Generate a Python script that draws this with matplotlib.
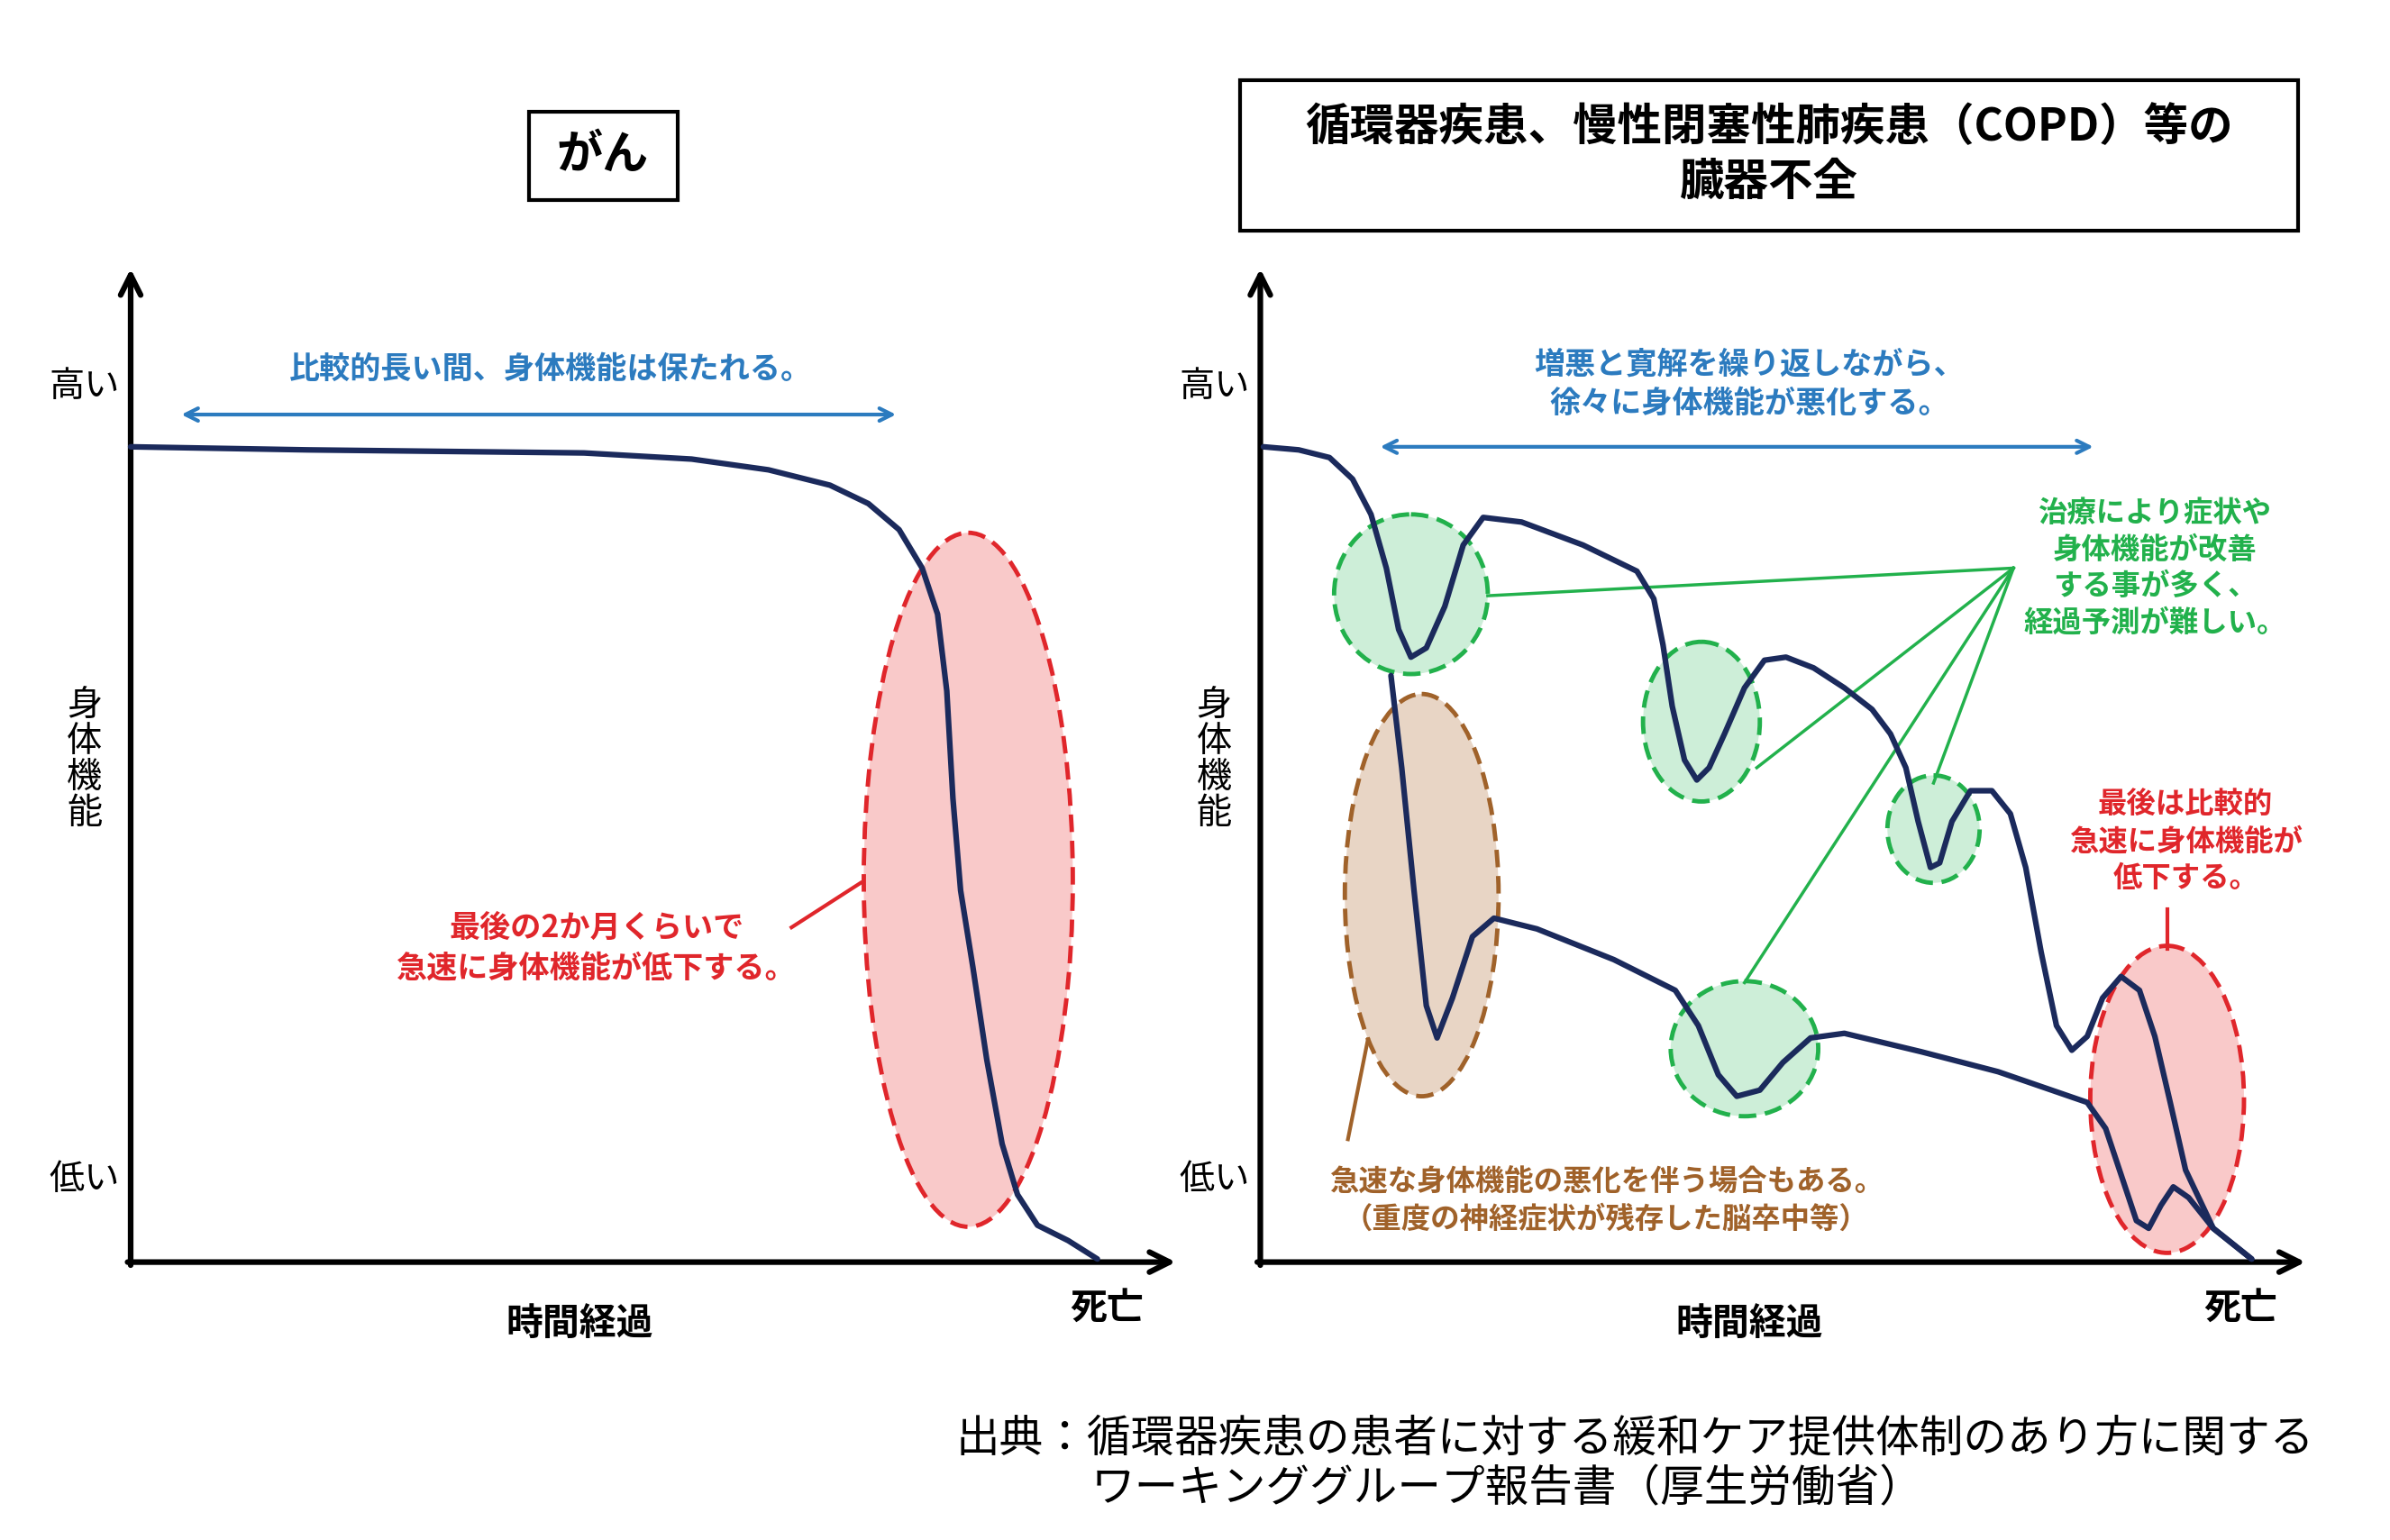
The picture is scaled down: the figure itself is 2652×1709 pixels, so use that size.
import matplotlib
matplotlib.use("Agg")
import matplotlib.pyplot as plt
from matplotlib.patches import Ellipse, Rectangle

plt.rcParams["font.family"] = "Noto Sans CJK JP"

# reference is laid out in a 1555 x 1003 coordinate space
W, H = 1555, 1003
def fs(px):
    return px * 1.228

NAVY = "#1b2a5c"
BLUE = "#2c7bbf"
RED = "#e0262b"
GREEN = "#22b14c"
BROWN = "#a0622a"

# left panel (がん) curve
left_x = [85, 200, 380, 450, 500, 540, 565, 585, 600, 610, 616, 620, 625, 633, 642, 652, 662, 675, 695, 714]
left_y = [291, 293, 295, 299, 306, 316, 328, 345, 370, 400, 450, 520, 580, 630, 690, 745, 778, 798, 808, 820]

# right panel upper curve
up_x = [822, 845, 865, 880, 892, 902, 910, 918, 928, 940, 952, 965, 990, 1030, 1065, 1076, 1082, 1088, 1096, 1104,
        1112, 1122, 1135, 1148, 1162, 1180, 1200, 1218, 1230, 1240, 1248, 1256, 1262, 1270, 1282, 1296, 1308, 1318,
        1328, 1338, 1348, 1358, 1368, 1380, 1392, 1402, 1412, 1422, 1440, 1465]
up_y = [291, 293, 298, 312, 335, 370, 410, 428, 422, 395, 355, 337, 340, 355, 372, 390, 420, 460, 495, 508,
        500, 478, 448, 430, 428, 435, 448, 462, 478, 500, 535, 565, 562, 535, 515, 515, 530, 565,
        620, 668, 684, 675, 650, 636, 645, 675, 718, 762, 800, 820]

# right panel lower curve
low_x = [905, 912, 920, 928, 935, 945, 958, 972, 1000, 1050, 1090, 1105, 1118, 1130, 1145, 1160, 1178, 1200,
         1250, 1300, 1358, 1370, 1380, 1390, 1398, 1406, 1414, 1424, 1440, 1465]
low_y = [440, 500, 580, 655, 676, 650, 610, 598, 605, 625, 645, 668, 700, 714, 710, 692, 676, 673,
         685, 698, 718, 735, 765, 795, 800, 785, 773, 780, 800, 820]

fig = plt.figure(figsize=(26.52, 17.09), dpi=100)
ax = fig.add_axes([0, 0, 1, 1])
ax.set_xlim(0, W)
ax.set_ylim(H, 0)
ax.axis("off")

def arrow(x0, y0, x1, y1, color, style="->", lw=4.5, ms=40):
    ax.annotate("", xy=(x1, y1), xytext=(x0, y0),
                arrowprops=dict(arrowstyle=style, color=color, lw=lw, mutation_scale=ms,
                                shrinkA=0, shrinkB=0))

def ell(cx, cy, w, h, face, edge):
    ax.add_patch(Ellipse((cx, cy), w, h, facecolor=face, edgecolor=edge, lw=3.5, ls=(0, (4, 2)), zorder=1))

# ---------- left panel ----------
arrow(85, 824, 85, 175, "black")
arrow(83, 822, 765, 822, "black")
ax.add_patch(Rectangle((344, 73), 97, 57, fill=False, lw=3, edgecolor="black"))
ax.text(392, 101, "がん", ha="center", va="center", fontsize=fs(30), fontweight="bold")
ax.text(55, 252, "高い", ha="center", va="center", fontsize=fs(23))
ax.text(55, 768, "低い", ha="center", va="center", fontsize=fs(23))
ax.text(55, 495, "身\n体\n機\n能", ha="center", va="center", fontsize=fs(23), linespacing=1.0)
ax.text(377, 862, "時間経過", ha="center", va="center", fontsize=fs(24), fontweight="bold")
ax.text(720, 852, "死亡", ha="center", va="center", fontsize=fs(24), fontweight="bold")
arrow(118, 270, 583, 270, BLUE, style="<->", lw=3, ms=25)
ax.text(358, 240, "比較的長い間、身体機能は保たれる。", ha="center", va="center",
        fontsize=fs(20), color=BLUE, fontweight="bold")
ell(630, 573, 136, 452, "#f9c9c9", RED)
ax.plot(left_x, left_y, color=NAVY, lw=4.5, zorder=3, solid_capstyle="round", solid_joinstyle="round")
ax.plot([515, 560], [604, 575], color=RED, lw=3)
ax.text(388, 617, "最後の2か月くらいで\n急速に身体機能が低下する。", ha="center", va="center",
        fontsize=fs(20), color=RED, fontweight="bold", linespacing=1.35)

# ---------- right panel ----------
arrow(820, 824, 820, 175, "black")
arrow(818, 822, 1500, 822, "black")
ax.add_patch(Rectangle((807, 52), 688, 98, fill=False, lw=3, edgecolor="black"))
ax.text(1151, 101, "循環器疾患、慢性閉塞性肺疾患（COPD）等の\n臓器不全", ha="center", va="center",
        fontsize=fs(29), fontweight="bold", linespacing=1.25)
ax.text(790, 252, "高い", ha="center", va="center", fontsize=fs(23))
ax.text(790, 768, "低い", ha="center", va="center", fontsize=fs(23))
ax.text(790, 495, "身\n体\n機\n能", ha="center", va="center", fontsize=fs(23), linespacing=1.0)
ax.text(1138, 862, "時間経過", ha="center", va="center", fontsize=fs(24), fontweight="bold")
ax.text(1458, 852, "死亡", ha="center", va="center", fontsize=fs(24), fontweight="bold")
arrow(898, 291, 1362, 291, BLUE, style="<->", lw=3, ms=25)
ax.text(1138, 250, "増悪と寛解を繰り返しながら、\n徐々に身体機能が悪化する。", ha="center", va="center",
        fontsize=fs(20), color=BLUE, fontweight="bold", linespacing=1.3)

ell(918, 387, 100, 104, "#cdeed8", GREEN)
ell(1107, 470, 76, 104, "#cdeed8", GREEN)
ell(1258, 540, 60, 70, "#cdeed8", GREEN)
ell(1135, 683, 96, 88, "#cdeed8", GREEN)
ell(925, 583, 100, 262, "#e8d5c5", BROWN)
ell(1410, 716, 100, 200, "#f9c9c9", RED)

for tx, ty in [(968, 388), (1143, 500), (1258, 510), (1135, 640)]:
    ax.plot([1310, tx], [370, ty], color=GREEN, lw=2.5, zorder=2)

ax.plot(up_x, up_y, color=NAVY, lw=4.5, zorder=3, solid_capstyle="round", solid_joinstyle="round")
ax.plot(low_x, low_y, color=NAVY, lw=4.5, zorder=3, solid_capstyle="round", solid_joinstyle="round")

ax.text(1402, 370, "治療により症状や\n身体機能が改善\nする事が多く、\n経過予測が難しい。", ha="center", va="center",
        fontsize=fs(19), color=GREEN, fontweight="bold", linespacing=1.3)
ax.plot([1410, 1410], [592, 618], color=RED, lw=3)
ax.text(1422, 548, "最後は比較的\n急速に身体機能が\n低下する。", ha="center", va="center",
        fontsize=fs(19), color=RED, fontweight="bold", linespacing=1.3)
ax.plot([890, 877], [677, 742], color=BROWN, lw=3)
ax.text(1045, 782, "急速な身体機能の悪化を伴う場合もある。\n（重度の神経症状が残存した脳卒中等）", ha="center", va="center",
        fontsize=fs(19), color=BROWN, fontweight="bold", linespacing=1.3)

# source
ax.text(622, 937, "出典：循環器疾患の患者に対する緩和ケア提供体制のあり方に関する", ha="left", va="center",
        fontsize=fs(28.5))
ax.text(710, 970, "ワーキンググループ報告書（厚生労働省）", ha="left", va="center", fontsize=fs(28.5))

fig.savefig("out.png", dpi=100)
